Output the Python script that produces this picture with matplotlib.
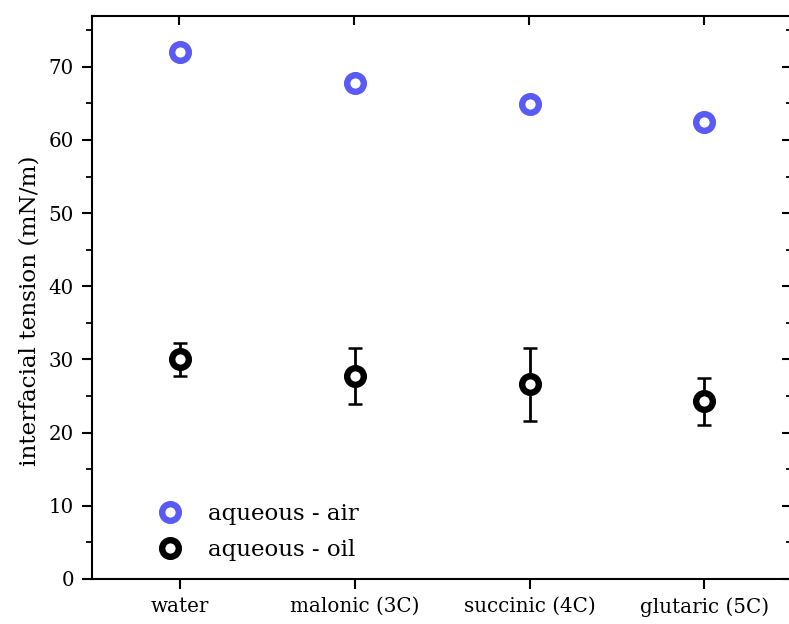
import matplotlib
matplotlib.use("Agg")
import matplotlib.pyplot as plt
from matplotlib.ticker import MultipleLocator

categories = ["water", "malonic (3C)", "succinic (4C)", "glutaric (5C)"]
air_tension = [72.0, 67.8, 64.9, 62.4]
oil_tension = [30.0, 27.7, 26.6, 24.3]
oil_error = [2.3, 3.8, 5.0, 3.2]

plt.rcParams["font.family"] = ["DejaVu Serif"]

fig = plt.figure(figsize=(7.89, 6.24), dpi=100)
ax = fig.add_axes([92 / 789, 1 - 579 / 624, 700 / 789, (579 - 15.5) / 624])

x = list(range(len(categories)))
blue = "#5a5af5"

# error bars for the oil interface, drawn beneath the markers
ax.errorbar(x, oil_tension, yerr=oil_error, fmt="none", ecolor="black",
            elinewidth=2.0, capsize=4.7, capthick=1.8, zorder=2)

ax.plot(x, air_tension, linestyle="none", marker="o", ms=12, mew=4.6,
        mfc="white", mec=blue, label="aqueous - air", zorder=3)
ax.plot(x, oil_tension, linestyle="none", marker="o", ms=12, mew=4.6,
        mfc="white", mec="black", label="aqueous - oil", zorder=3)

ax.set_xlim(-0.5, 3.5)
ax.set_ylim(0, 77)
ax.set_xticks(x)
ax.set_xticklabels(categories)
ax.yaxis.set_major_locator(MultipleLocator(10))
ax.yaxis.set_minor_locator(MultipleLocator(5))

for s in ax.spines.values():
    s.set_linewidth(1.5)

ax.tick_params(axis="both", which="major", labelsize=14.3, width=1.5, length=7,
               direction="out", pad=6)
ax.tick_params(axis="y", which="minor", width=1.3, length=4, direction="out")
ax.tick_params(axis="x", which="both", top=False)
ax.tick_params(axis="y", which="both", right=False)

# inward ticks on the top and right edges
ax_top = ax.secondary_xaxis("top")
ax_top.set_xticks(x)
ax_top.set_xticklabels([])
ax_top.tick_params(direction="in", length=7, width=1.5, labeltop=False)
ax_r = ax.secondary_yaxis("right")
ax_r.yaxis.set_major_locator(MultipleLocator(10))
ax_r.yaxis.set_minor_locator(MultipleLocator(5))
ax_r.tick_params(which="major", direction="in", length=7, width=1.5, labelright=False)
ax_r.tick_params(which="minor", direction="in", length=4, width=1.3)
for sec in (ax_top, ax_r):
    for s in sec.spines.values():
        s.set_visible(False)

ax.set_ylabel("interfacial tension (mN/m)", fontsize=16.7)
ax.yaxis.set_label_coords(-0.074, 0.476)

ax.legend(loc="lower left", bbox_to_anchor=(67 / 700, 0.032), frameon=False,
          fontsize=16.5, handlelength=1.0, handletextpad=1.15,
          labelspacing=0.6, borderpad=0, borderaxespad=0)

fig.savefig("out.png", dpi=100)
